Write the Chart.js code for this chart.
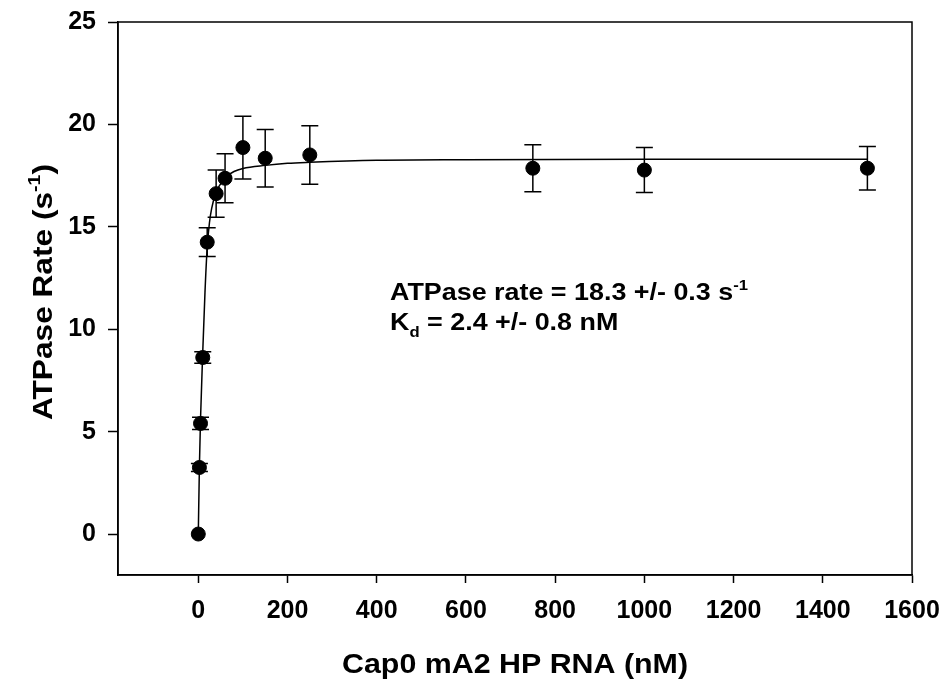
<!DOCTYPE html>
<html>
<head>
<meta charset="utf-8">
<script src="https://cdn.jsdelivr.net/npm/chart.js@4"></script>
<style>
  body { margin: 0; background: #fff; }
  #wrap { width: 945px; height: 684px; }
</style>
</head>
<body>
<div id="wrap"><canvas id="chart" width="945" height="684"></canvas></div>
<script>
// measured points (x = RNA nM, y = ATPase rate s^-1)
const conc = [0, 2.5, 5, 10, 20, 40, 60, 100, 150, 250, 750, 1000, 1500]
const rate = [0, 3.25, 5.4, 8.62, 14.25, 16.62, 17.37, 18.87, 18.35, 18.51, 17.86, 17.77, 17.86]
const rateErr = [0, 0.2, 0.3, 0.28, 0.7, 1.15, 1.2, 1.53, 1.4, 1.43, 1.15, 1.1, 1.06]

// fitted curve
const fitX = [0, 2.5, 5, 10, 15, 20, 25, 30, 40, 50, 60, 80, 100, 150, 200, 250, 400, 600, 1000, 1500]
const fitY = [0, 3.3, 5.6, 8.9, 11.8, 14.0, 15.2, 15.9, 16.7, 17.1, 17.4, 17.7, 17.85, 18.0, 18.1, 18.15, 18.25, 18.28, 18.3, 18.3]

const xTicks = [0, 200, 400, 600, 800, 1000, 1200, 1400, 1600]
const yTicks = [0, 5, 10, 15, 20, 25]

const FONT = "Arial, 'Liberation Sans', sans-serif"

function toXY(xs, ys){
    return xs.map((x, i) => ({x: x, y: ys[i]}))
}

// draws a string made of parts, some raised or lowered
function drawParts(ctx, parts, x, y, size){
    for(let p of parts){
        let s = p.sup || p.sub ? size * 0.62 : size
        ctx.font = `bold ${s}px ${FONT}`
        let dy = p.sup ? -size * 0.42 : (p.sub ? size * 0.28 : 0)
        ctx.fillText(p.t, x, y + dy)
        x += ctx.measureText(p.t).width
    }
    return x
}

function partsWidth(ctx, parts, size){
    let w = 0
    for(let p of parts){
        let s = p.sup || p.sub ? size * 0.62 : size
        ctx.font = `bold ${s}px ${FONT}`
        w += ctx.measureText(p.t).width
    }
    return w
}

// the original text is a bit wider than plain Arial, so stretch it
function stretched(ctx, x, y, sx, rot, fn){
    ctx.save()
    ctx.translate(x, y)
    if(rot) ctx.rotate(rot)
    ctx.scale(sx, 1)
    fn()
    ctx.restore()
}

const extras = {
    id: 'extras',
    beforeDatasetsDraw(chart){
        let ctx = chart.ctx
        let xs = chart.scales.x, ys = chart.scales.y
        ctx.save()
        ctx.strokeStyle = '#000'
        ctx.lineWidth = 1.5
        for(let i = 0; i < conc.length; i++){
            if(!rateErr[i]) continue
            let px = xs.getPixelForValue(conc[i])
            let top = ys.getPixelForValue(rate[i] + rateErr[i])
            let bot = ys.getPixelForValue(rate[i] - rateErr[i])
            ctx.beginPath()
            ctx.moveTo(px, top); ctx.lineTo(px, bot)
            ctx.moveTo(px - 8.5, top); ctx.lineTo(px + 8.5, top)
            ctx.moveTo(px - 8.5, bot); ctx.lineTo(px + 8.5, bot)
            ctx.stroke()
        }
        ctx.restore()
    },
    afterDraw(chart){
        let ctx = chart.ctx
        let a = chart.chartArea
        ctx.save()
        ctx.strokeStyle = '#000'
        ctx.lineWidth = 1.5
        ctx.strokeRect(a.left, a.top, a.right - a.left, a.bottom - a.top)

        ctx.fillStyle = '#000'
        ctx.textBaseline = 'alphabetic'
        ctx.textAlign = 'left'

        // annotation
        stretched(ctx, 390, 300, 1.12, 0, () => {
            drawParts(ctx, [{t: 'ATPase rate = 18.3 +/- 0.3 s'}, {t: '-1', sup: true}], 0, 0, 24)
            drawParts(ctx, [{t: 'K'}, {t: 'd', sub: true}, {t: ' = 2.4 +/- 0.8 nM'}], 0, 30, 24)
        })

        // x title
        let xt = [{t: 'Cap0 mA2 HP RNA (nM)'}]
        let w = partsWidth(ctx, xt, 28) * 1.085
        stretched(ctx, (a.left + a.right) / 2 - w / 2, 673, 1.085, 0, () => {
            drawParts(ctx, xt, 0, 0, 28)
        })

        // y title, rotated
        let yt = [{t: 'ATPase Rate (s'}, {t: '-1', sup: true}, {t: ')'}]
        w = partsWidth(ctx, yt, 28) * 1.13
        stretched(ctx, 52, 292 + w / 2, 1.13, -Math.PI / 2, () => {
            drawParts(ctx, yt, 0, 0, 28)
        })
        ctx.restore()
    }
}

let tickFont = {family: FONT, size: 25, weight: 'bold'}

new Chart(document.getElementById('chart'), {
    type: 'scatter',
    data: {
        datasets: [{
            label: 'fit',
            data: toXY(fitX, fitY),
            showLine: true,
            borderColor: '#000',
            borderWidth: 1.5,
            pointRadius: 0,
            cubicInterpolationMode: 'monotone'
        }, {
            label: 'rate',
            data: toXY(conc, rate),
            pointRadius: 7,
            pointBackgroundColor: '#000',
            pointBorderColor: '#000',
            showLine: false
        }]
    },
    options: {
        responsive: false,
        animation: false,
        layout: {padding: {top: 22, right: 33, left: 0, bottom: 0}},
        plugins: {legend: {display: false}, tooltip: {enabled: false}},
        scales: {
            x: {
                type: 'linear',
                min: -180,
                max: 1600,
                afterBuildTicks: s => { s.ticks = xTicks.map(v => ({value: v})) },
                afterFit: s => { s.height = 109; s.paddingRight = 0; s.paddingLeft = 0 },
                grid: {drawOnChartArea: false, tickLength: 8, tickColor: '#000', tickWidth: 1.5},
                border: {color: '#000', width: 1.5},
                ticks: {font: tickFont, color: '#000', padding: 13, maxRotation: 0, autoSkip: false,
                        callback: v => String(v)}
            },
            y: {
                min: -2,
                max: 25,
                afterBuildTicks: s => { s.ticks = yTicks.map(v => ({value: v})) },
                afterFit: s => { s.width = 118; s.paddingTop = 0; s.paddingBottom = 0 },
                grid: {drawOnChartArea: false, tickLength: 10, tickColor: '#000', tickWidth: 1.5},
                border: {color: '#000', width: 1.5},
                ticks: {font: tickFont, color: '#000', padding: 12, callback: v => String(v)}
            }
        }
    },
    plugins: [extras]
})
</script>
</body>
</html>
